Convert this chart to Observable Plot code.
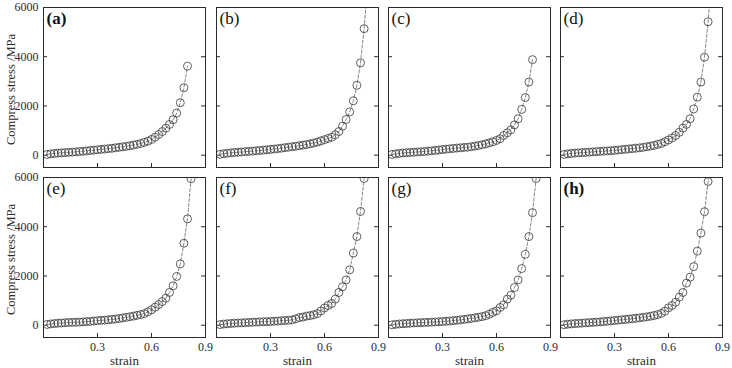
<!DOCTYPE html>
<html>
<head>
<meta charset="utf-8">
<script src="https://cdn.jsdelivr.net/npm/d3@7"></script>
<script src="https://cdn.jsdelivr.net/npm/@observablehq/plot@0.6"></script>
<style>
  body { margin: 0; background: #fff; }
  #chart { position: relative; width: 732px; height: 368px; overflow: hidden; background: #fff; }
  #chart svg {
    position: absolute;
    overflow: visible;
    background: none !important;
    font-family: "Liberation Serif", "DejaVu Serif", serif !important;
    font-size: 12px !important;
    color: #2a2a2a;
  }
  #chart svg text { font-family: "Liberation Serif", "DejaVu Serif", serif !important; }
</style>
</head>
<body>
<div id="chart"></div>
<script>
// Strain sampling points shared by all eight specimens
const strain = [0.02, 0.04, 0.06, 0.08, 0.10, 0.12, 0.14, 0.16, 0.18, 0.20,
                0.22, 0.24, 0.26, 0.28, 0.30, 0.32, 0.34, 0.36, 0.38, 0.40,
                0.42, 0.44, 0.46, 0.48, 0.50, 0.52, 0.54, 0.56, 0.58, 0.60,
                0.62, 0.64, 0.66, 0.68, 0.70, 0.72, 0.74, 0.76, 0.78, 0.80,
                0.82, 0.84];

// Compressive stress (MPa) for each specimen
const stressA = [30, 55, 70, 85, 95, 105, 115, 125, 135, 150,
                 160, 175, 190, 205, 220, 235, 250, 265, 280, 300,
                 320, 340, 360, 385, 410, 440, 475, 520, 570, 640,
                 730, 840, 960, 1100, 1250, 1440, 1710, 2130, 2740, 3620];
const stressB = [35, 60, 80, 95, 110, 120, 130, 145, 155, 165,
                 180, 190, 205, 220, 235, 250, 265, 285, 305, 325,
                 345, 365, 385, 410, 435, 460, 495, 530, 580, 630,
                 680, 730, 830, 960, 1180, 1450, 1760, 2210, 2840, 3750,
                 5140, 7000];
const stressC = [30, 55, 75, 90, 100, 110, 120, 130, 140, 150,
                 165, 180, 195, 210, 230, 245, 260, 275, 290, 300,
                 315, 325, 345, 370, 395, 425, 460, 500, 545, 600,
                 670, 800, 910, 1030, 1230, 1480, 1860, 2340, 2970, 3880];
const stressD = [30, 55, 70, 85, 95, 105, 115, 125, 135, 145,
                 155, 165, 175, 185, 195, 210, 225, 240, 255, 270,
                 285, 300, 320, 345, 370, 400, 440, 480, 545, 620,
                 700, 800, 930, 1100, 1250, 1480, 1880, 2360, 2970, 3980,
                 5420, 7300];
const stressE = [30, 50, 65, 80, 90, 100, 110, 115, 120, 125,
                 135, 145, 155, 170, 185, 195, 205, 220, 235, 250,
                 270, 295, 320, 345, 370, 400, 430, 470, 540, 625,
                 730, 840, 960, 1100, 1330, 1600, 1980, 2490, 3330, 4320,
                 5950, 7900];
const stressF = [25, 45, 60, 70, 80, 90, 95, 105, 110, 120,
                 125, 135, 140, 145, 150, 160, 170, 180, 190, 200,
                 215, 260, 310, 330, 370, 390, 420, 470, 580, 700,
                 800, 880, 1060, 1330, 1560, 1840, 2250, 2930, 3600, 4620,
                 5960, 7800];
const stressG = [15, 35, 50, 60, 70, 80, 90, 95, 105, 110,
                 115, 125, 130, 140, 150, 160, 170, 185, 200, 215,
                 235, 255, 275, 300, 325, 350, 385, 447, 520, 585,
                 720, 830, 1060, 1220, 1530, 1840, 2300, 2880, 3600, 4570,
                 5960, 7800];
const stressH = [20, 40, 55, 65, 75, 85, 95, 105, 115, 125,
                 135, 150, 160, 175, 190, 205, 220, 235, 250, 265,
                 280, 300, 320, 340, 365, 395, 430, 480, 570, 705,
                 800, 935, 1140, 1330, 1710, 1950, 2380, 3010, 3740, 4610,
                 5840, 7500];

const panelLabels = ["(a)", "(b)", "(c)", "(d)", "(e)", "(f)", "(g)", "(h)"];
const panelStress = [stressA, stressB, stressC, stressD, stressE, stressF, stressG, stressH];
const boldLabels = ["(a)", "(h)"];

const xTicks = [0.3, 0.6, 0.9];
const yTicks = [0, 2000, 4000, 6000];
const xLabel = "strain";
const yLabel = "Compress stress /MPa";

// Panel grid layout (pixels)
const FRAME_W = 162, FRAME_H = 160;
const colLeft = [43, 216, 388, 560];
const rowTop = [7, 177];
const ML = 43, MR = 8, MT = 7, MB = 31;

const serif = "Liberation Serif, DejaVu Serif, serif";
const ink = "#2a2a2a";
const chart = document.getElementById("chart");

panelStress.forEach((stress, i) => {
  const col = i % 4, row = Math.floor(i / 4);
  const isLeft = col === 0, isBottom = row === 1;
  const data = stress.map((v, k) => ({strain: strain[k], stress: v}));

  const marks = [
    Plot.line(data, {x: "strain", y: "stress", stroke: "#666", strokeWidth: 0.8,
                     strokeDasharray: "3,2", clip: true}),
    Plot.dot(data, {x: "strain", y: "stress", r: 4, stroke: "#3a3a3a", strokeWidth: 0.8,
                    fill: "none", clip: true}),
    // inward tick marks on bottom, left and right edges
    Plot.ruleX(xTicks, {x: d => d, insetTop: FRAME_H - 4, stroke: ink}),
    Plot.ruleY(yTicks, {y: d => d, insetRight: FRAME_W - 4, stroke: ink}),
    Plot.ruleY(yTicks, {y: d => d, insetLeft: FRAME_W - 4, stroke: ink}),
    Plot.frame({stroke: ink, strokeWidth: 1}),
    Plot.text([panelLabels[i]], {
      frameAnchor: "top-left", dx: 3, dy: 4, lineAnchor: "top", textAnchor: "start",
      fontSize: 17, fill: "#111", fontFamily: serif,
      fontWeight: boldLabels.includes(panelLabels[i]) ? "bold" : "normal"
    })
  ];
  if (isLeft) {
    marks.push(Plot.axisY(yTicks, {anchor: "left", tickSize: 0, tickPadding: 5,
      tickFormat: "d", label: null, fontFamily: serif, fontSize: 12, fill: ink}));
    marks.push(Plot.text([yLabel], {frameAnchor: "left", rotate: -90, dx: -33, dy: 2,
      textAnchor: "middle", lineAnchor: "middle", fontSize: 12.5, fill: ink, fontFamily: serif}));
  }
  if (isBottom) {
    marks.push(Plot.axisX(xTicks, {anchor: "bottom", tickSize: 0, tickPadding: 5,
      label: null, fontFamily: serif, fontSize: 12, fill: ink}));
    marks.push(Plot.text([xLabel], {frameAnchor: "bottom", dy: 23,
      textAnchor: "middle", lineAnchor: "middle", fontSize: 13, fill: ink, fontFamily: serif}));
  }

  const svg = Plot.plot({
    width: ML + FRAME_W + MR,
    height: MT + FRAME_H + MB,
    marginLeft: ML, marginRight: MR, marginTop: MT, marginBottom: MB,
    x: {domain: [0, 0.9], axis: null},
    y: {domain: [-500, 6000], axis: null},
    marks
  });
  svg.setAttribute("font-family", serif);
  svg.style.left = (colLeft[col] - ML) + "px";
  svg.style.top = (rowTop[row] - MT) + "px";
  chart.appendChild(svg);
});
</script>
</body>
</html>
